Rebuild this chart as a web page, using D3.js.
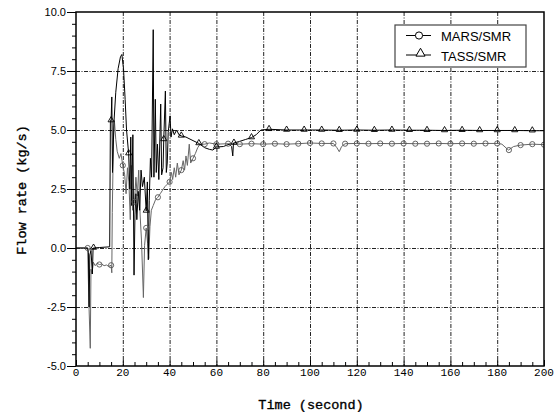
<!DOCTYPE html>
<html>
<head>
<meta charset="utf-8">
<script src="https://cdn.jsdelivr.net/npm/d3@7/dist/d3.min.js"></script>
<style>
    body { margin: 0; background: #fff; }
    svg { display: block; }
</style>
</head>
<body>
<div id="chart"></div>
<script>
// 坐标刻度
const xTicks = [0, 20, 40, 60, 80, 100, 120, 140, 160, 180, 200];
const yTicks = [-5.0, -2.5, 0.0, 2.5, 5.0, 7.5, 10.0];

// MARS/SMR 流量 [时间, 流量]
const marsFlow = [
    [0, 0], [5, 0], [5.3, -1.4], [5.6, -2.6], [6.1, -4.25], [6.4, -0.9], [6.8, -1.1],
    [7.4, -0.6], [8.2, -0.75], [9, -0.65], [10, -0.7], [11, -0.68], [12, -0.75],
    [13, -0.72], [14, -0.78], [15, -0.73], [15.3, -1.05], [15.5, 1.5], [16, 4.6],
    [16.4, 5.4], [17, 4.6], [17.6, 4.1], [18.5, 3.8], [19.2, 4.0], [20, 3.5],
    [20.8, 3.1], [21.4, 2.3], [22, 3.4], [22.6, 2.8], [23.2, 1.2], [23.6, 3.5],
    [24.2, 1.6], [25, 1.96], [25.6, 3.0], [26.2, 2.2], [26.8, 3.3], [27.4, 1.4],
    [28, 0.3], [28.8, -2.1], [29.3, 0.1], [30, 0.85], [30.6, 0.2], [31.1, -0.45],
    [31.6, 0.9], [32.2, 1.6], [33, 1.8], [34, 2.05], [35, 2.15], [36, 2.3],
    [37, 2.45], [38, 2.6], [39, 2.7], [40, 2.8], [40.8, 3.2], [41.3, 2.9],
    [42, 3.4], [42.6, 3.0], [43.3, 3.6], [44, 3.1], [45, 3.3], [45.8, 3.7],
    [46.4, 3.3], [47, 3.9], [47.6, 3.5], [48.4, 4.4], [49, 3.6], [50, 3.8],
    [51, 4.0], [52, 4.25], [53, 4.4], [55, 4.4], [57, 4.45], [60, 4.4],
    [65, 4.42], [70, 4.4], [75, 4.42], [80, 4.4], [85, 4.42], [90, 4.4],
    [95, 4.42], [100, 4.45], [105, 4.43], [110, 4.43], [111.5, 4.25], [112.5, 4.08],
    [113.5, 4.3], [115, 4.42], [120, 4.43], [125, 4.42], [130, 4.43], [135, 4.42],
    [140, 4.43], [145, 4.42], [150, 4.42], [155, 4.43], [160, 4.42], [165, 4.43],
    [170, 4.42], [175, 4.43], [180, 4.43], [182, 4.4], [184.8, 4.15], [187, 4.3],
    [190, 4.36], [195, 4.4], [200, 4.38]
];

// MARS/SMR 符号点
const marsMarks = [
    [5, 0], [10, -0.7], [15, -0.73], [20, 3.5], [25, 1.96], [30, 0.85], [35, 2.15],
    [40, 2.8], [45, 3.3], [50, 3.8], [55, 4.4], [60, 4.4], [65, 4.42], [70, 4.4],
    [75, 4.42], [80, 4.4], [85, 4.42], [90, 4.4], [95, 4.42], [100, 4.45],
    [105, 4.43], [110, 4.43], [115, 4.42], [120, 4.43], [125, 4.42], [130, 4.43],
    [135, 4.42], [140, 4.43], [145, 4.42], [150, 4.42], [155, 4.43], [160, 4.42],
    [165, 4.43], [170, 4.42], [175, 4.43], [180, 4.43], [185, 4.15], [190, 4.36],
    [195, 4.4], [200, 4.38]
];

// TASS/SMR 流量 [时间, 流量]
const tassFlow = [
    [0, 0], [5, 0], [5.3, -0.2], [5.6, -2.5], [5.9, -0.3], [6.4, -0.1], [7, -1.1],
    [7.3, 0], [7.5, 0], [10, 0.02], [14.4, 0.05], [14.7, 5.4], [15, 5.4], [15.3, 6.4],
    [15.6, 3.2], [16.2, 5.3], [17, 6.6], [18, 7.6], [19, 8.1], [19.6, 8.2],
    [20.3, 7.6], [21, 6.3], [21.6, 5.0], [22.5, 4.0], [23, 2.5], [23.4, 4.7],
    [23.8, 1.8], [24.3, 4.8], [24.8, -1.15], [25.2, 1.4], [25.6, 2.3], [26, 1.2],
    [26.6, 2.4], [27.2, 1.6], [27.8, 3.3], [28.4, 2.6], [29.2, 3.0], [30, 1.57],
    [30.5, 2.8], [30.9, -0.5], [31.3, 2.0], [31.8, 3.8], [32.3, 3.0], [33, 9.25],
    [33.3, 3.0], [33.9, 6.3], [34.3, 3.2], [34.8, 4.4], [35.4, 2.9], [36.2, 6.1],
    [36.6, 3.1], [37.2, 3.4], [37.5, 4.6], [38.2, 6.65], [38.6, 3.2], [39, 3.6],
    [39.4, 4.9], [40.2, 5.6], [40.6, 4.7], [41.2, 5.05], [42, 4.8], [43, 5.0],
    [44, 4.8], [45, 4.75], [47, 4.7], [50, 4.55], [52.5, 4.43], [55, 4.25],
    [57, 4.18], [58.5, 4.15], [60, 4.28], [63, 4.3], [65.5, 4.4], [66.5, 4.3],
    [67, 3.9], [67.3, 4.45], [67.5, 4.45], [70, 4.52], [72.5, 4.6], [75, 4.68],
    [77, 4.8], [79, 5.0], [82.5, 5.03], [90, 5.0], [97.5, 5.0], [105, 5.0],
    [112.5, 4.99], [120, 5.0], [127.5, 4.99], [135, 5.0], [142.5, 4.99], [150, 4.99],
    [157.5, 4.98], [165, 4.99], [172.5, 4.98], [180, 4.98], [187.5, 4.98],
    [195, 4.97], [200, 4.97]
];

// TASS/SMR 符号点
const tassMarks = [
    [7.5, 0], [15, 5.4], [22.5, 4.0], [30, 1.57], [37.5, 4.6], [45, 4.75],
    [52.5, 4.43], [60, 4.28], [67.5, 4.45], [75, 4.68], [82.5, 5.03], [90, 5.0],
    [97.5, 5.0], [105, 5.0], [112.5, 4.99], [120, 5.0], [127.5, 4.99], [135, 5.0],
    [142.5, 4.99], [150, 4.99], [157.5, 4.98], [165, 4.99], [172.5, 4.98],
    [180, 4.98], [187.5, 4.98], [195, 4.97]
];

const seriesNames = ['MARS/SMR', 'TASS/SMR'];

const width = 555, height = 412;
const plot = { left: 76, right: 544, top: 12, bottom: 366 };

const svg = d3.select('#chart').append('svg')
    .attr('width', width)
    .attr('height', height);

const x = d3.scaleLinear().domain([0, 200]).range([plot.left, plot.right]);
const y = d3.scaleLinear().domain([-5, 10]).range([plot.bottom, plot.top]);

// 网格线
const grid = svg.append('g')
    .attr('stroke', '#222')
    .attr('stroke-width', 1)
    .attr('stroke-dasharray', '4,1.5,1,1.5');
grid.selectAll('.gx')
    .data(xTicks.slice(1, -1))
    .enter().append('line')
    .attr('x1', d => x(d) + 0.5).attr('x2', d => x(d) + 0.5)
    .attr('y1', plot.top).attr('y2', plot.bottom);
grid.selectAll('.gy')
    .data(yTicks.slice(1, -1))
    .enter().append('line')
    .attr('x1', plot.left).attr('x2', plot.right)
    .attr('y1', d => y(d) + 0.5).attr('y2', d => y(d) + 0.5);

svg.append('clipPath').attr('id', 'clip')
    .append('rect')
    .attr('x', plot.left).attr('y', plot.top)
    .attr('width', plot.right - plot.left)
    .attr('height', plot.bottom - plot.top);

const line = d3.line().x(d => x(d[0])).y(d => y(d[1]));
const body = svg.append('g').attr('clip-path', 'url(#clip)');

// 曲线
body.append('path')
    .datum(marsFlow)
    .attr('fill', 'none')
    .attr('stroke', '#666')
    .attr('stroke-width', 1)
    .attr('d', line);

body.append('path')
    .datum(tassFlow)
    .attr('fill', 'none')
    .attr('stroke', '#000')
    .attr('stroke-width', 1)
    .attr('d', line);

// 符号
body.selectAll('.mars-mark')
    .data(marsMarks)
    .enter().append('circle')
    .attr('cx', d => x(d[0]))
    .attr('cy', d => y(d[1]))
    .attr('r', 2.6)
    .attr('fill', 'none')
    .attr('stroke', '#555')
    .attr('stroke-width', 0.9);

const tri = d3.symbol().type(d3.symbolTriangle).size(16);
body.selectAll('.tass-mark')
    .data(tassMarks)
    .enter().append('path')
    .attr('transform', d => `translate(${x(d[0])},${y(d[1]) - 0.5})`)
    .attr('d', tri)
    .attr('fill', 'none')
    .attr('stroke', '#000')
    .attr('stroke-width', 0.9);

// 坐标轴
const xAxis = d3.axisBottom(x)
    .tickValues(d3.range(0, 201, 5))
    .tickSize(0)
    .tickFormat('');
svg.append('g')
    .attr('transform', `translate(0,${plot.bottom})`)
    .call(xAxis)
    .call(g => g.select('.domain').remove())
    .call(g => g.selectAll('.tick line')
        .attr('y2', d => xTicks.includes(d) ? -6 : -4)
        .attr('stroke', '#000'));

svg.append('g')
    .selectAll('text')
    .data(xTicks)
    .enter().append('text')
    .attr('x', d => x(d))
    .attr('y', plot.bottom + 10)
    .attr('text-anchor', 'middle')
    .style('font-family', '"Liberation Mono", monospace')
    .style('font-size', '11px')
    .text(d => d);

const yAxis = d3.axisLeft(y)
    .tickValues(d3.range(-5, 10.01, 0.5))
    .tickSize(0)
    .tickFormat('');
svg.append('g')
    .attr('transform', `translate(${plot.left},0)`)
    .call(yAxis)
    .call(g => g.select('.domain').remove())
    .call(g => g.selectAll('.tick line')
        .attr('x2', d => (Math.abs(d % 2.5) < 1e-6) ? -9 : -4)
        .attr('stroke', '#000'));

svg.append('g')
    .selectAll('text')
    .data(yTicks)
    .enter().append('text')
    .attr('x', plot.left - 10)
    .attr('y', d => y(d) + 4)
    .attr('text-anchor', 'end')
    .style('font-family', '"Liberation Sans", Arial, sans-serif')
    .style('font-size', '11px')
    .text(d => d3.format('.1f')(d).replace('−', '-'));

// 外框
svg.append('rect')
    .attr('x', plot.left).attr('y', plot.top)
    .attr('width', plot.right - plot.left)
    .attr('height', plot.bottom - plot.top)
    .attr('fill', 'none')
    .attr('stroke', '#000')
    .attr('stroke-width', 1.5);

// 轴标题
svg.append('text')
    .attr('x', 311)
    .attr('y', 409)
    .attr('text-anchor', 'middle')
    .style('font-family', '"Liberation Mono", monospace')
    .style('font-size', '13.5px')
    .style('stroke', '#000')
    .style('stroke-width', 0.35)
    .text('Time (second)');

svg.append('text')
    .attr('transform', 'translate(26,190) rotate(-90)')
    .attr('text-anchor', 'middle')
    .style('font-family', '"Liberation Mono", monospace')
    .style('font-size', '13.5px')
    .style('stroke', '#000')
    .style('stroke-width', 0.35)
    .text('Flow rate (kg/s)');

// 图例
const legend = svg.append('g');
legend.append('rect')
    .attr('x', 395).attr('y', 25)
    .attr('width', 131).attr('height', 42)
    .attr('fill', '#fff')
    .attr('stroke', '#444')
    .attr('stroke-width', 1.2);

const legendRows = [35.5, 55];
legendRows.forEach((ly, i) => {
    legend.append('line')
        .attr('x1', 406).attr('x2', 431)
        .attr('y1', ly).attr('y2', ly)
        .attr('stroke', '#000');
    if (i === 0) {
        legend.append('circle')
            .attr('cx', 419).attr('cy', ly).attr('r', 3.6)
            .attr('fill', '#fff').attr('stroke', '#000');
    } else {
        legend.append('path')
            .attr('transform', `translate(420.5,${ly - 1.5})`)
            .attr('d', d3.symbol().type(d3.symbolTriangle).size(36))
            .attr('fill', '#fff').attr('stroke', '#000');
    }
    legend.append('text')
        .attr('x', 441)
        .attr('y', ly + 5.5)
        .style('font-family', '"Liberation Sans", Arial, sans-serif')
        .style('font-size', '13px')
        .text(seriesNames[i]);
});
</script>
</body>
</html>
